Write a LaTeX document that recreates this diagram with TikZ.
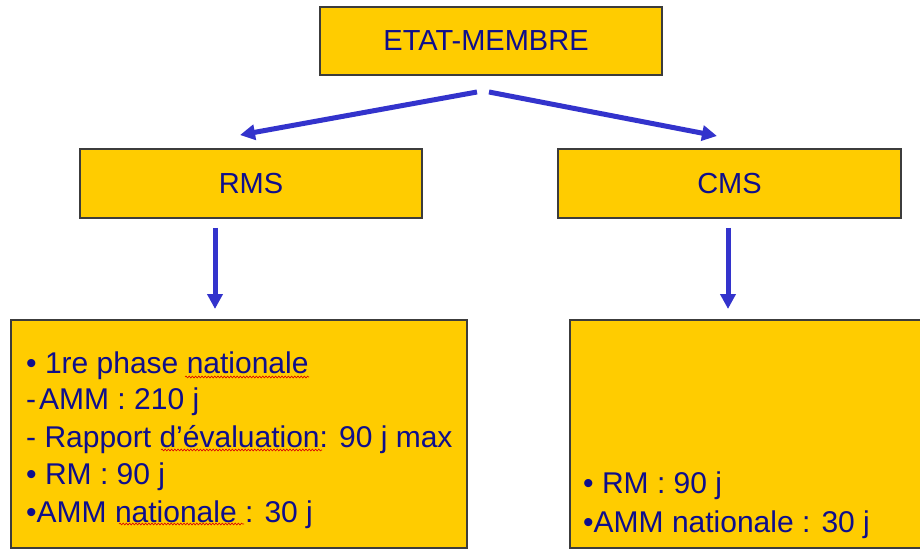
\documentclass[tikz,border=0pt]{standalone}
\usepackage{fontspec}
\setmainfont{Liberation Sans}
\usetikzlibrary{arrows.meta,decorations.pathmorphing}
\definecolor{boxyellow}{RGB}{255,204,0}
\definecolor{textnavy}{RGB}{14,14,140}
\definecolor{arrowblue}{RGB}{51,51,204}
\definecolor{borderdark}{RGB}{60,60,60}
\tikzset{
  box/.style={draw=borderdark, line width=1.2pt, fill=boxyellow, inner sep=0pt,
    text=textnavy, font=\fontsize{29}{34}\selectfont},
  txt/.style={anchor=base west, inner sep=0pt, text=textnavy, font=\fontsize{30}{36}\selectfont},
  arr/.style={draw=arrowblue, line width=5pt, -{Triangle[length=15pt,width=15pt]}},
  spell/.style={draw=red!85!black, line width=0.6pt, decorate,
    decoration={snake, amplitude=0.9pt, segment length=3.2pt}}
}
\begin{document}
\begin{tikzpicture}[x=1pt,y=-1pt]
\useasboundingbox (0,0) rectangle (920,553);
\fill[white] (0,0) rectangle (920,553);
% boxes
\node[box, minimum width=342pt, minimum height=68pt] (etat) at (491,41) {\hspace*{-10pt}ETAT-MEMBRE};
\node[box, minimum width=342pt, minimum height=69pt] (rms) at (251,183.5) {RMS};
\node[box, minimum width=343pt, minimum height=69pt] (cms) at (729.5,183.5) {CMS};
\node[box, minimum width=456pt, minimum height=228pt] (bl) at (239,434) {};
\node[box, minimum width=352pt, minimum height=228pt] (br) at (746,434) {};
% arrows
\coordinate (a1s) at (477,92);
\coordinate (a1e) at (240,135);
\coordinate (a2s) at (489,92);
\coordinate (a2e) at (717,136);
\coordinate (a3s) at (215,228);
\coordinate (a3e) at (215,309);
\coordinate (a4s) at (728,228);
\coordinate (a4e) at (728,309);
\draw[arr] (a1s) -- (a1e);
\draw[arr] (a2s) -- (a2e);
\draw[arr] (a3s) -- (a3e);
\draw[arr] (a4s) -- (a4e);
% left text
\node[txt] (t1) at (26,373) {• 1re phase nationale};
\node[txt] (t2) at (26,409) {-\hspace{3pt}AMM : 210 j};
\node[txt] (t3) at (26,447) {- Rapport d’évaluation: 90 j max};
\node[txt] (t4) at (26,484) {• RM : 90 j};
\node[txt] (t5) at (26,522) {•AMM nationale : 30 j};
% right text
\node[txt] (r1) at (583,493) {• RM : 90 j};
\node[txt] (r2) at (583,532) {•AMM nationale : 30 j};
% spell-check underlines
\coordinate (s1a) at (185,377); \coordinate (s1b) at (309,377);
\coordinate (s2a) at (161,450); \coordinate (s2b) at (322,450);
\coordinate (s3a) at (119,524); \coordinate (s3b) at (244,524);
\draw[spell] (s1a) -- (s1b);
\draw[spell] (s2a) -- (s2b);
\draw[spell] (s3a) -- (s3b);
\end{tikzpicture}
\end{document}
